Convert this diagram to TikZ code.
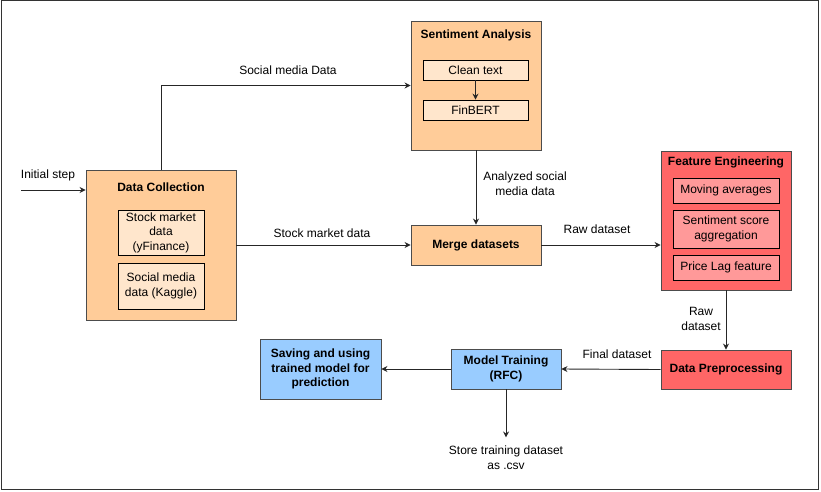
\documentclass[tikz,border=0pt]{standalone}
\usepackage{fontspec}
\setmainfont{Liberation Sans}
\usetikzlibrary{arrows.meta}
\definecolor{boxorange}{HTML}{FFCC99}
\definecolor{lightorange}{HTML}{FFE6CC}
\definecolor{boxred}{HTML}{FF6666}
\definecolor{lightred}{HTML}{FF9999}
\definecolor{boxblue}{HTML}{99CCFF}
\begin{document}
\begin{tikzpicture}[x=1pt,y=-1pt,
    font=\fontsize{12}{14.5}\selectfont,
    outer/.style={draw=black!70, line width=0.9pt, inner sep=0pt},
    inner/.style={draw=black, line width=0.8pt, align=center, inner sep=0pt},
    title/.style={font=\fontsize{12}{14.5}\selectfont\bfseries, align=center},
    lbl/.style={align=center, inner sep=0pt},
    flow/.style={draw=black!85, line width=0.9pt, -{Stealth[length=6pt,width=6pt,inset=2pt]}}]
    \useasboundingbox (0,0) rectangle (821,491);
    \draw[black!80, line width=1pt] (1,0.5) rectangle (818.5,489.5);

    % containers
    \node[outer, fill=boxorange, minimum width=150, minimum height=150] (dc) at (161,245) {};
    \node[title] (dctitle) at (161,187) {Data Collection};
    \node[inner, fill=lightorange, minimum width=86, minimum height=45] (stock) at (161,232.5) {Stock market\\data\\(yFinance)};
    \node[inner, fill=lightorange, minimum width=86, minimum height=46] (social) at (161,286) {Social media\\data (Kaggle)};

    \node[outer, fill=boxorange, minimum width=130, minimum height=129] (sa) at (476,85.5) {};
    \node[title] (satitle) at (476,35) {Sentiment Analysis};
    \node[inner, fill=lightorange, minimum width=105, minimum height=20] (clean) at (475.5,70) {Clean text};
    \node[inner, fill=lightorange, minimum width=105, minimum height=20] (finbert) at (475.5,110) {FinBERT};

    \node[outer, fill=boxorange, minimum width=130, minimum height=40, font=\fontsize{12}{14.5}\selectfont\bfseries] (merge) at (476,245) {Merge datasets};

    \node[outer, fill=boxred, minimum width=130, minimum height=139] (fe) at (726,220.5) {};
    \node[title] (fetitle) at (726,162) {Feature Engineering};
    \node[inner, fill=lightred, minimum width=106, minimum height=25] (mavg) at (726,190.5) {Moving averages};
    \node[inner, fill=lightred, minimum width=106, minimum height=38] (agg) at (726,229) {Sentiment score\\aggregation};
    \node[inner, fill=lightred, minimum width=106, minimum height=25] (lag) at (726,267.5) {Price Lag feature};

    \node[outer, fill=boxred, minimum width=130, minimum height=39, font=\fontsize{12}{14.5}\selectfont\bfseries] (prep) at (726,369.5) {Data Preprocessing};
    \node[outer, fill=boxblue, minimum width=110, minimum height=40, align=center, font=\fontsize{12}{14.5}\selectfont\bfseries] (train) at (506,369) {Model Training\\(RFC)};
    \node[outer, fill=boxblue, minimum width=121, minimum height=60, align=center, font=\fontsize{12}{14.5}\selectfont\bfseries] (save) at (320.5,369) {Saving and using\\trained model for\\prediction};
    \node[lbl, anchor=north] (store) at (506,446) {Store training dataset\\as .csv};
    \coordinate (start) at (21,190);

    % connectors
    \draw[flow] (start) -- (start -| dc.west);
    \draw[flow] (dc.north) |- (sa.west);
    \draw[flow] (clean) -- (finbert);
    \draw[flow] (sa.south) -- (merge.north);
    \draw[flow] (dc.east |- merge.west) -- (merge.west);
    \draw[flow] (merge.east) -- (merge.east -| fe.west);
    \draw[flow] (fe.south) -- (prep.north);
    \draw[flow] (prep.west) -- (train.east);
    \draw[flow] (train.west) -- (save.east);
    \draw[flow] (train.south) -- ++(0,48);

    % edge labels
    \node[lbl] (l1) at (48,175) {Initial step};
    \node[lbl] (l2) at (288,70) {Social media Data};
    \node[lbl] (l3) at (322,233) {Stock market data};
    \node[lbl] (l4) at (525,183.5) {Analyzed social\\media data};
    \node[lbl] (l5) at (597,229) {Raw dataset};
    \node[lbl] (l6) at (701,319) {Raw\\dataset};
    \node[lbl] (l7) at (617,354) {Final dataset};
\end{tikzpicture}
\end{document}
